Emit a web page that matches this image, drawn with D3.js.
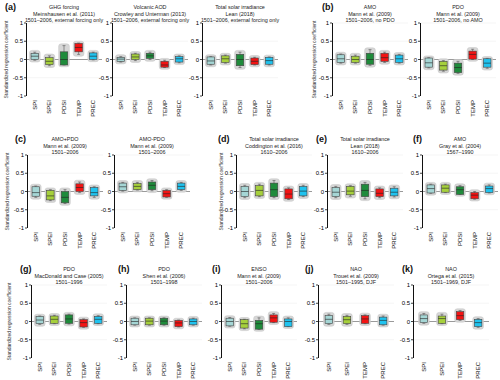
<!DOCTYPE html>
<html>
<head>
<meta charset="utf-8">
<script src="https://cdn.jsdelivr.net/npm/d3@7"></script>
<style>
  body { margin: 0; background: #fff; }
  text { font-family: "Liberation Sans", Arial, sans-serif; }
</style>
</head>
<body>
<script>
// categories
const cats5 = ["SPI", "SPEI", "PDSI", "TEMP", "PREC"];
const cats4 = ["SPI", "SPEI", "TEMP", "PREC"];
const yTicks = [-1, -0.5, 0, 0.5, 1];

// panel titles (3 lines each)
const titles = [
  ["GHG forcing", "Meinshausen et al. (2011)", "1501–2006, external forcing only"],
  ["Volcanic AOD", "Crowley and Unterman (2013)", "1501–2006, external forcing only"],
  ["Total solar irradiance", "Lean (2018)", "1501–2006, external forcing only"],
  ["AMO", "Mann et al. (2009)", "1501–2006, no PDO"],
  ["PDO", "Mann et al. (2009)", "1501–2006, no AMO"],
  ["AMO+PDO", "Mann et al. (2009)", "1501–2006"],
  ["AMO-PDO", "Mann et al. (2009)", "1501–2006"],
  ["Total solar irradiance", "Coddington et al. (2016)", "1610–2006"],
  ["Total solar irradiance", "Lean (2018)", "1610–2006"],
  ["AMO", "Gray et al. (2004)", "1567–1990"],
  ["PDO", "MacDonald and Case (2005)", "1501–1996"],
  ["PDO", "Shen et al. (2006)", "1501–1998"],
  ["ENSO", "Mann et al. (2009)", "1501–2006"],
  ["NAO", "Trouet et al. (2009)", "1501–1995, DJF"],
  ["NAO", "Ortega et al. (2015)", "1501–1969, DJF"]
];
const letters = ["(a)", "", "", "(b)", "", "(c)", "", "(d)", "(e)", "(f)", "(g)", "(h)", "(i)", "(j)", "(k)"];

// box stats per category: [min, q1, median, q3, max]
const ghg      = [[-0.02, 0.0, 0.09, 0.17, 0.2], [-0.17, -0.14, -0.05, 0.05, 0.1], [-0.15, -0.15, 0.0, 0.21, 0.38], [0.14, 0.21, 0.33, 0.44, 0.45], [-0.01, 0.0, 0.09, 0.18, 0.2]];
const volcanic = [[-0.07, -0.05, 0.01, 0.06, 0.08], [-0.03, 0.0, 0.07, 0.15, 0.17], [0.0, 0.03, 0.1, 0.17, 0.2], [-0.22, -0.21, -0.15, -0.05, -0.02], [-0.09, -0.07, 0.02, 0.08, 0.1]];
const tsiExt   = [[-0.15, -0.13, -0.04, 0.07, 0.08], [-0.1, -0.08, 0.02, 0.1, 0.12], [-0.22, -0.17, 0.0, 0.14, 0.2], [-0.15, -0.14, -0.05, 0.04, 0.06], [-0.15, -0.13, -0.03, 0.06, 0.07]];
const amoNoPdo = [[-0.1, -0.08, 0.02, 0.13, 0.15], [-0.1, -0.08, 0.0, 0.09, 0.12], [-0.16, -0.13, 0.0, 0.17, 0.27], [-0.08, -0.05, 0.05, 0.17, 0.2], [-0.1, -0.08, 0.02, 0.12, 0.14]];
const pdoNoAmo = [[-0.23, -0.21, -0.09, 0.04, 0.05], [-0.32, -0.29, -0.17, -0.05, -0.03], [-0.38, -0.36, -0.22, -0.1, -0.05], [0.0, 0.01, 0.14, 0.23, 0.28], [-0.24, -0.21, -0.1, 0.02, 0.03]];
const amoPlus  = [[-0.16, -0.13, -0.03, 0.13, 0.15], [-0.25, -0.23, -0.12, 0.03, 0.05], [-0.33, -0.31, -0.16, 0.0, 0.05], [-0.03, 0.0, 0.11, 0.21, 0.26], [-0.16, -0.12, -0.03, 0.11, 0.13]];
const amoMinus = [[0.01, 0.03, 0.13, 0.23, 0.25], [0.04, 0.05, 0.14, 0.22, 0.25], [0.02, 0.05, 0.17, 0.26, 0.3], [-0.16, -0.15, -0.06, 0.03, 0.05], [0.03, 0.05, 0.14, 0.23, 0.25]];
const tsiCod   = [[-0.17, -0.14, 0.0, 0.14, 0.17], [-0.14, -0.12, 0.03, 0.16, 0.2], [-0.17, -0.14, 0.05, 0.23, 0.3], [-0.22, -0.2, -0.07, 0.07, 0.1], [-0.14, -0.12, 0.01, 0.14, 0.17]];
const tsiLean  = [[-0.17, -0.14, -0.02, 0.11, 0.14], [-0.13, -0.09, 0.01, 0.14, 0.16], [-0.2, -0.14, 0.03, 0.2, 0.25], [-0.17, -0.14, -0.05, 0.07, 0.1], [-0.15, -0.12, -0.02, 0.09, 0.13]];
const amoGray  = [[-0.05, -0.04, 0.08, 0.18, 0.2], [-0.03, -0.02, 0.09, 0.18, 0.2], [-0.08, -0.08, 0.05, 0.13, 0.16], [-0.21, -0.2, -0.1, -0.03, 0.0], [-0.04, -0.03, 0.08, 0.15, 0.18]];
const pdoMac   = [[-0.08, -0.06, 0.04, 0.14, 0.15], [-0.06, -0.05, 0.06, 0.15, 0.17], [-0.07, -0.05, 0.07, 0.18, 0.2], [-0.16, -0.15, -0.03, 0.05, 0.07], [-0.06, -0.05, 0.06, 0.14, 0.16]];
const pdoShen  = [[-0.1, -0.09, 0.0, 0.09, 0.1], [-0.1, -0.09, 0.01, 0.09, 0.1], [-0.1, -0.09, 0.01, 0.09, 0.1], [-0.15, -0.14, -0.04, 0.03, 0.04], [-0.1, -0.09, 0.0, 0.07, 0.09]];
const ensoMann = [[-0.13, -0.12, 0.0, 0.09, 0.11], [-0.2, -0.18, -0.06, 0.05, 0.06], [-0.22, -0.21, -0.06, 0.03, 0.1], [-0.03, -0.02, 0.1, 0.18, 0.22], [-0.14, -0.14, 0.0, 0.07, 0.1]];
const naoTrouet = [[-0.08, -0.06, 0.06, 0.16, 0.2], [-0.08, -0.06, 0.05, 0.14, 0.17], [-0.06, -0.05, 0.07, 0.16, 0.18], [-0.1, -0.09, 0.03, 0.12, 0.15]];
const naoOrtega = [[-0.05, -0.03, 0.08, 0.18, 0.22], [-0.06, -0.05, 0.08, 0.15, 0.2], [0.03, 0.05, 0.16, 0.27, 0.3], [-0.16, -0.14, -0.03, 0.06, 0.08]];

const panelStats = [ghg, volcanic, tsiExt, amoNoPdo, pdoNoAmo, amoPlus, amoMinus, tsiCod, tsiLean, amoGray, pdoMac, pdoShen, ensoMann, naoTrouet, naoOrtega];
const panelCats = panelStats.map(s => s.length === 4 ? cats4 : cats5);

const colorOf = {SPI: "#a5d6d5", SPEI: "#a6d03c", PDSI: "#1f8b3b", TEMP: "#f21414", PREC: "#20c3ef"};

// layout: rows (y of +1 and -1), panel axis x, letter x, y-title x
const rowY = [[23, 96], [155, 228], [285, 358]];
const layout = [
  {row: 0, x: 26,  lx: 5,   yt: 7},
  {row: 0, x: 112},
  {row: 0, x: 202},
  {row: 0, x: 332, lx: 322, yt: 315},
  {row: 0, x: 420},
  {row: 1, x: 27,  lx: 15,  yt: 8},
  {row: 1, x: 114},
  {row: 1, x: 236, lx: 218, yt: 222},
  {row: 1, x: 327, lx: 316},
  {row: 1, x: 422, lx: 413},
  {row: 2, x: 31,  lx: 20,  yt: 10},
  {row: 2, x: 126, lx: 118},
  {row: 2, x: 221, lx: 212},
  {row: 2, x: 318, lx: 305},
  {row: 2, x: 413, lx: 402}
];
const panelW = 76;

const svg = d3.select("body").append("svg")
  .attr("width", 500)
  .attr("height", 380);

layout.forEach((L, i) => {
  const top = rowY[L.row][0], bot = rowY[L.row][1];
  const y = d3.scaleLinear().domain([-1, 1]).range([bot, top]);
  const x = d3.scalePoint().domain(panelCats[i]).range([L.x, L.x + panelW]).padding(0.6);
  const g = svg.append("g");

  // light grid
  g.selectAll("line.grid").data([1, 0.5, -0.5]).enter().append("line")
    .attr("class", "grid")
    .attr("x1", L.x).attr("x2", L.x + panelW)
    .attr("y1", d => y(d)).attr("y2", d => y(d))
    .attr("stroke", "#efefef").attr("stroke-width", 0.6);

  // zero line
  g.append("line")
    .attr("x1", L.x).attr("x2", L.x + panelW)
    .attr("y1", y(0)).attr("y2", y(0))
    .attr("stroke", "#9a9a9a").attr("stroke-width", 1);

  // y axis: line, ticks, labels
  g.append("line")
    .attr("x1", L.x + 0.5).attr("x2", L.x + 0.5)
    .attr("y1", y(-1)).attr("y2", y(1))
    .attr("stroke", "#111").attr("stroke-width", 1);
  g.selectAll("line.tk").data(yTicks).enter().append("line")
    .attr("class", "tk")
    .attr("x1", L.x - 2).attr("x2", L.x)
    .attr("y1", d => y(d)).attr("y2", d => y(d))
    .attr("stroke", "#111").attr("stroke-width", 0.8);
  g.selectAll("text.tl").data(yTicks).enter().append("text")
    .attr("class", "tl")
    .attr("x", L.x - 3)
    .attr("y", d => y(d) + 2)
    .attr("text-anchor", "end")
    .attr("font-size", 6)
    .attr("fill", "#000")
    .text(d => String(d));

  // category labels
  g.selectAll("text.cat").data(panelCats[i]).enter().append("text")
    .attr("class", "cat")
    .attr("transform", d => "translate(" + (x(d) + 2) + "," + (bot + 4) + ") rotate(-90)")
    .attr("text-anchor", "end")
    .attr("font-size", 6)
    .attr("fill", "#111")
    .text(d => d);

  // boxes
  const bw = 7.5;
  const boxes = g.selectAll("g.box").data(panelStats[i]).enter().append("g").attr("class", "box");
  boxes.append("rect")
    .attr("x", (d, j) => x(panelCats[i][j]) - bw / 2 - 1.6)
    .attr("y", d => y(d[4]) - 1.8)
    .attr("width", bw + 3.2)
    .attr("height", d => y(d[0]) - y(d[4]) + 3.6)
    .attr("rx", 2.5)
    .attr("fill", "#d6d6d6")
    .attr("stroke", "#c4c4c4").attr("stroke-width", 0.5);
  boxes.append("line")
    .attr("x1", (d, j) => x(panelCats[i][j])).attr("x2", (d, j) => x(panelCats[i][j]))
    .attr("y1", d => y(d[0])).attr("y2", d => y(d[4]))
    .attr("stroke", "#555").attr("stroke-width", 0.6);
  [0, 4].forEach(k => {
    boxes.append("line")
      .attr("x1", (d, j) => x(panelCats[i][j]) - 1.5).attr("x2", (d, j) => x(panelCats[i][j]) + 1.5)
      .attr("y1", d => y(d[k])).attr("y2", d => y(d[k]))
      .attr("stroke", "#555").attr("stroke-width", 0.6);
  });
  boxes.append("rect")
    .attr("x", (d, j) => x(panelCats[i][j]) - bw / 2)
    .attr("y", d => y(d[3]))
    .attr("width", bw)
    .attr("height", d => y(d[1]) - y(d[3]))
    .attr("fill", (d, j) => colorOf[panelCats[i][j]])
    .attr("stroke", "#444").attr("stroke-width", 0.6);
  boxes.append("line")
    .attr("x1", (d, j) => x(panelCats[i][j]) - bw / 2).attr("x2", (d, j) => x(panelCats[i][j]) + bw / 2)
    .attr("y1", d => y(d[2])).attr("y2", d => y(d[2]))
    .attr("stroke", "#222").attr("stroke-width", 0.6);

  // titles
  const cx = L.x + panelW / 2;
  titles[i].forEach((t, k) => {
    g.append("text")
      .attr("x", cx).attr("y", top - 14 + k * 6.6)
      .attr("text-anchor", "middle")
      .attr("font-size", 5.4)
      .attr("fill", "#222")
      .text(t);
  });

  if (letters[i]) {
    g.append("text")
      .attr("x", L.lx).attr("y", top - 13)
      .attr("font-size", 9).attr("font-weight", "bold")
      .attr("fill", "#111")
      .text(letters[i]);
  }

  if (L.yt !== undefined) {
    g.append("text")
      .attr("transform", "translate(" + L.yt + "," + ((top + bot) / 2) + ") rotate(-90)")
      .attr("text-anchor", "middle")
      .attr("dominant-baseline", "middle")
      .attr("font-size", 5)
      .attr("fill", "#333")
      .text("Standardized regression coefficient");
  }
});
</script>
</body>
</html>
